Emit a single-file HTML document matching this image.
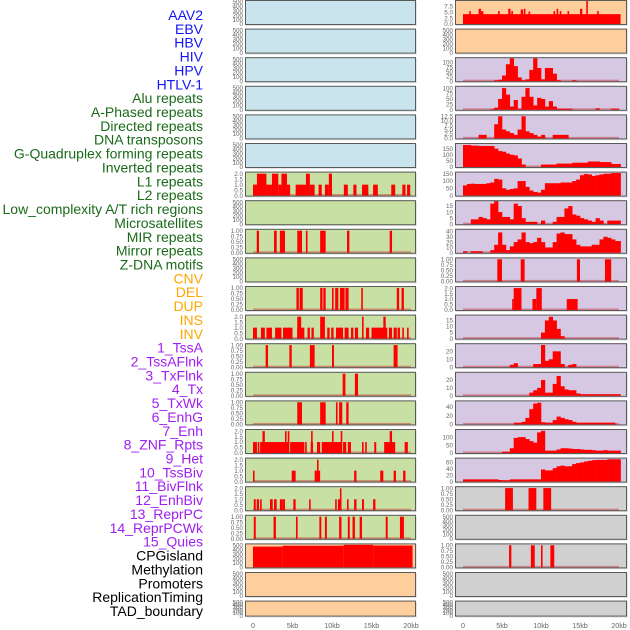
<!DOCTYPE html>
<html><head><meta charset="utf-8"><style>
html,body{margin:0;padding:0;background:#fff;}
svg{display:block;font-family:"Liberation Sans",Arial,sans-serif;}
</style></head><body>
<svg id="chart" width="630" height="630" viewBox="0 0 630 630"></svg>
<script>
// ---- data ----
const trackLabels=["AAV2","EBV","HBV","HIV","HPV","HTLV-1","Alu repeats","A-Phased repeats","Directed repeats","DNA transposons","G-Quadruplex forming repeats","Inverted repeats","L1 repeats","L2 repeats","Low_complexity A/T rich regions","Microsatellites","MIR repeats","Mirror repeats","Z-DNA motifs","CNV","DEL","DUP","INS","INV","1_TssA","2_TssAFlnk","3_TxFlnk","4_Tx","5_TxWk","6_EnhG","7_Enh","8_ZNF_Rpts","9_Het","10_TssBiv","11_BivFlnk","12_EnhBiv","13_ReprPC","14_ReprPCWk","15_Quies","CPGisland","Methylation","Promoters","ReplicationTiming","TAD_boundary"];
const labelGroups=[0,0,0,0,0,0,1,1,1,1,1,1,1,1,1,1,1,1,1,2,2,2,2,2,3,3,3,3,3,3,3,3,3,3,3,3,3,3,3,4,4,4,4,4];
const xTickLabels=["0","5kb","10kb","15kb","20kb"];
const xTickValues=[0,5,10,15,20];

// right column binned values (0.5kb bins)
const rHIV=[0,0,0,0,0,0,0,0,5,8,30,90,125,80,20,5,10,60,125,70,10,70,70,40,5,0,0,0,5,0,0,0,0,0,0,0,0,0,0,0,0];
const rHPV=[0,0,0,0,0,0,0,3,10,50,100,70,15,45,5,60,100,60,20,55,50,15,40,15,5,5,5,5,0,0,0,0,0,0,7,0,0,0,5,5,0];
const rHTLV=[0,0,0,0,2,2,0,0,8,12.5,5,4,3,2,5,12.5,4,3,2,1,2,0,0,2,2,2,2,0,0,0,0,0,0,0,0,0,0,0,0,0,0];
const rAlu=[180,180,175,175,172,172,172,172,150,130,125,110,100,95,70,20,0,0,0,0,20,20,20,20,28,28,28,28,35,35,35,35,45,45,45,40,40,40,25,25,25];
const rL1=[70,80,82,80,80,80,85,90,115,110,50,40,45,50,100,100,60,35,25,20,40,85,85,85,85,90,90,90,100,110,140,148,145,135,140,145,150,150,155,155,155];
const rL2=[0,0,4,4,6,5,4,17,19,10,6,6,4,17,15,5,2,2,2,0,3,0,0,2,6,6,13,15,8,7,5,4,3,2,5,3,0,3,3,3,3];
const rMicro=[3,0,3,3,3,0,0,5,15,38,15,5,12,20,25,38,20,18,20,28,20,10,10,20,36,38,35,35,25,15,12,12,12,15,15,25,30,28,25,22,22];
const rINS=[0,0,0,0,0,0,0,0,0,0,0,0,0,0,0,0,0,0,0,0,5,15,18,15,8,2,0,0,0,0,0,0,0,0,0,0,0,0,0,0,0];
const rTssA=[0,0,0,0,0,0,0,0,0,0,0,0,3,5,0,0,0,0,4,4,28,8,10,20,20,4,0,3,4,0,0,0,0,0,0,0,0,0,0,0,0];
const rTssAFlnk=[0,0,0,0,0,0,0,0,0,0,0,0,0,0,0,0,0,4,7,10,20,4,4,15,25,12,8,7,7,3,2,2,2,2,2,2,2,2,2,2,2];
const rTx=[0,0,0,0,0,0,0,0,0,0,0,0,0,4,4,6,15,35,48,50,5,4,4,10,18,15,12,10,6,4,4,4,4,4,4,4,4,4,4,0,0];
const rTxWk=[0,0,0,0,0,0,0,0,0,0,8,8,30,95,100,100,88,75,65,130,140,15,15,15,22,30,30,28,25,25,22,20,20,18,15,15,18,15,15,15,15];
const rEnhG=[7,7,7,7,7,7,7,7,7,5,4,4,7,7,7,7,7,7,7,7,38,35,35,42,48,50,48,48,55,58,60,63,65,67,68,68,68,70,70,70,70];

// segment data [startKb, endKb, value]
const rAAV2=[[0,20.2,4.2],[0.8,1,5.5],[2,2.3,6.5],[2.3,2.6,5.5],[4.5,4.7,5.5],[5.8,6.1,6.5],[6.2,6.4,5.5],[7.4,7.7,6.2],[7.8,8,6.5],[8.4,8.6,5.3],[11.6,11.8,5.5],[12,12.2,6.5],[12.4,12.6,5.5],[13.4,13.6,5.5],[15,15.3,6.5],[17.2,17.4,5.5],[15.8,16,9.8]];
const rZDNA=[[4.4,5,1],[7.4,7.9,1],[14.6,15,1],[18.2,19,1]];
const rDEL=[[6.3,6.5,1],[6.5,7.5,2],[8.9,9.4,1],[9.4,10.1,2],[13.3,14.7,1]];
const rEnh=[[5.4,6.4,1],[8.4,9.4,1],[10.3,11.3,1]];
const rReprPC=[[5.9,6.2,1],[8.7,9.2,1],[10,10.2,1],[11.2,11.7,1]];

const lL1=[[0,0.5,1],[0.5,1.7,2],[1.7,2.4,1],[2.4,3.2,2],[3.2,3.6,1],[3.6,4.3,2],[4.3,4.7,1],[5.4,6.7,1],[6.7,7.2,2],[7.2,7.8,1],[8.3,8.7,1],[9.1,9.6,1],[9.6,10,2],[11.5,12,1],[12.7,13.1,1],[13.8,14.6,1],[15.2,15.8,1],[17.5,18,1],[18.9,19.3,1],[19.5,19.9,1]];
const lMIR=[[0.47,0.76,1],[2.66,3,1],[3.4,4.05,1],[5.6,6.2,1],[6.7,6.9,1],[8.5,9.2,1],[11.9,12.2,1],[17.3,17.6,1]];
const lZDNA=[[5.5,5.8,1],[5.9,6.3,1],[8.5,8.8,1],[8.9,9.2,1],[10,10.2,1],[10.4,10.8,1],[11,11.6,1],[11.7,12.1,1],[13.7,13.9,1],[18.2,18.5,1],[18.8,19.1,1]];
const lDEL=[[0,0.5,1],[1,1.5,1],[1.7,2.4,1],[2.8,3.6,1],[3.8,5,1],[5.6,6.5,1],[5.6,6.1,2],[6.9,7.2,1],[7.4,7.7,1],[8.5,9.1,2],[9.4,9.7,1],[9.9,10.2,1],[10.5,11.4,1],[11.6,12.1,1],[12.4,12.7,1],[12.9,13.3,1],[13.8,14,2],[14.3,14.7,1],[15,17,1],[16.5,16.8,2],[17.2,17.6,1],[17.8,18.2,1],[18.3,18.6,1],[18.9,19.1,1],[19.5,19.7,1]];
const lDUP=[[1.6,1.9,1],[4.6,4.9,1],[7.2,7.8,1],[10,10.25,1],[17.8,18.3,1]];
const lINS=[[11.35,11.7,1],[12.9,13.3,1]];
const lINV=[[5.6,6.2,1],[8.5,9.2,1],[10.5,10.7,1],[10.9,11.3,1],[11.8,12.1,1]];
const lTssA=[[0,0.5,1],[0.6,0.8,1],[0.9,4.5,1],[1.2,1.5,2],[4.05,4.25,2],[4.4,4.6,2],[4.7,6.5,1],[6.6,6.8,1],[7.3,7.6,1],[7.35,7.45,2],[8.1,8.5,1],[8.7,11.2,1],[10,10.2,2],[11.1,11.3,2],[11.4,11.8,1],[12,12.4,1],[13.8,14,1],[14.2,14.4,1],[15.35,15.6,1],[16.6,18,1],[17.3,17.6,2],[19.2,19.6,1]];
const lTssAFlnk=[[0,0.2,1],[4.9,5.4,1],[7.8,8.5,1],[8.1,8.3,2],[12.8,13.1,1],[16.1,16.5,1],[17.8,18.1,1],[19,19.3,1]];
const lTxFlnk=[[0.1,0.35,1],[0.47,0.76,1],[0.9,1.1,1],[2.15,2.5,1],[2.66,3,1],[3.4,3.7,1],[3.7,4.05,1],[5.1,5.4,1],[7.1,7.3,1],[10.4,10.6,1],[10.75,11.2,1],[11,11.2,2],[11.9,12.1,1],[12.8,13.1,1],[13.8,14.05,1],[15.2,15.5,1]];
const lTx=[[0.1,0.35,1],[2.6,2.9,1],[5.44,5.65,1],[8.4,8.65,1],[9.1,9.35,1],[10.9,11.2,1],[12,12.25,1],[12.6,12.9,1],[13.5,13.8,1],[16.8,17.05,1],[18.6,19.1,1]];
const lTxWk=[[0,3.75,470],[3.75,11.5,490],[11.5,15.2,510],[15.2,20.2,495]];

// ---- layout ----
const T0=[0.0,0.25,0.5,0.75,1.0], T2=[0,0.5,1,1.5,2], TE=[0,100,200,300,400,500];
const C={blue:"#c9e4ec",green:"#c9e0a5",purple:"#d6c7e3",peach:"#fecf9d",grey:"#d0d0d0"};
const E=()=>({ticks:TE,ymax:520,empty:true});
const leftPanels=[
 {bg:C.blue,...E()},{bg:C.blue,...E()},{bg:C.blue,...E()},{bg:C.blue,...E()},{bg:C.blue,...E()},{bg:C.blue,...E()},
 {bg:C.green,ticks:T2,ymax:2.1,segs:lL1},{bg:C.green,...E()},
 {bg:C.green,ticks:T0,ymax:1.04,segs:lMIR},{bg:C.green,...E()},
 {bg:C.green,ticks:T0,ymax:1.04,segs:lZDNA},{bg:C.green,ticks:T2,ymax:2.1,segs:lDEL},
 {bg:C.green,ticks:T0,ymax:1.04,segs:lDUP},{bg:C.green,ticks:T0,ymax:1.04,segs:lINS},
 {bg:C.green,ticks:T0,ymax:1.04,segs:lINV},{bg:C.green,ticks:T2,ymax:2.1,segs:lTssA},
 {bg:C.green,ticks:T2,ymax:2.1,segs:lTssAFlnk},{bg:C.green,ticks:T2,ymax:2.1,segs:lTxFlnk},
 {bg:C.green,ticks:T0,ymax:1.04,segs:lTx},{bg:C.peach,ticks:TE,ymax:520,segs:lTxWk,nobase:true},
 {bg:C.peach,...E()},{bg:C.peach,...E()}];
const rightPanels=[
 {bg:C.peach,ticks:[0,2.5,5,7.5],ymax:9.8,segs:rAAV2,nobase:true},{bg:C.peach,...E()},
 {bg:C.purple,ticks:[0,25,50,75,100],ymax:122,bins:rHIV},
 {bg:C.purple,ticks:[0,25,50,75,100],ymax:106,bins:rHPV},
 {bg:C.purple,ticks:[0,2.5,5,7.5,10,12.5],ymax:13,bins:rHTLV},
 {bg:C.purple,ticks:[0,50,100,150],ymax:188,bins:rAlu},
 {bg:C.purple,ticks:[0,50,100,150],ymax:158,bins:rL1},
 {bg:C.purple,ticks:[0,5,10,15],ymax:19,bins:rL2},
 {bg:C.purple,ticks:[0,10,20,30,40],ymax:43,bins:rMicro},
 {bg:C.purple,ticks:T0,ymax:1.04,segs:rZDNA},
 {bg:C.purple,ticks:T2,ymax:2.1,segs:rDEL},
 {bg:C.purple,ticks:[0,5,10,15],ymax:19,bins:rINS},
 {bg:C.purple,ticks:[0,10,20],ymax:29,bins:rTssA},
 {bg:C.purple,ticks:[0,10,20],ymax:29,bins:rTssAFlnk},
 {bg:C.purple,ticks:[0,20,40],ymax:53,bins:rTx},
 {bg:C.purple,ticks:[0,50,100],ymax:145,bins:rTxWk},
 {bg:C.purple,ticks:[0,20,40,60],ymax:72,bins:rEnhG},
 {bg:C.grey,ticks:T0,ymax:1.04,segs:rEnh},{bg:C.grey,...E()},
 {bg:C.grey,ticks:T0,ymax:1.04,segs:rReprPC},{bg:C.grey,...E()},{bg:C.grey,...E()}];

const NS="http://www.w3.org/2000/svg";
const svg=document.getElementById('chart');
function mk(tag,attrs,parent){const e=document.createElementNS(NS,tag);for(const k in attrs)e.setAttribute(k,attrs[k]);(parent||svg).appendChild(e);return e;}
const groupColors=["#1414f5","#1a6a1a","#ffa500","#a020f0","#000000"];

// labels
trackLabels.forEach((t,i)=>{
  const el=mk('text',{x:203,y:15+i*13.86+5,'text-anchor':'end','font-size':'14',fill:groupColors[labelGroups[i]]});
  el.textContent=t;
  
  
});

function fmt(v,ticks){const dec=ticks.some(t=>t%1!==0)?(ticks.some(t=>(t*10)%1!==0)?2:1):0;return v.toFixed(dec);}
function drawPanel(p,row,side){
  const top=row*28.6, h=row===21?16:25;
  const px=side==='l'?245:455, pw=side==='l'?171:172;
  const x0=side==='l'?253:463, k=side==='l'?7.9:7.8;
  const xs=kb=>x0+kb*k;
  const yb=top+h-1, ys=v=>yb-Math.min(v,p.ymax)/p.ymax*(h-2);
  const g=mk('g',{});
  
  
  mk('rect',{x:px+1,y:top+1,width:pw,height:h,fill:'#e4e4e4'},g);
  mk('rect',{x:px,y:top,width:pw,height:h,fill:p.bg},g);
  if(!p.empty&&!p.nobase) mk('rect',{x:xs(0),y:yb-1.5,width:xs(20)-xs(0),height:2,fill:'rgba(200,40,40,0.45)'},g);
  if(p.segs) p.segs.forEach(s=>{
    const x1=xs(s[0]),x2=xs(s[1]);
    const r=mk('rect',{x:x1,y:ys(s[2]),width:Math.max(1.6,x2-x1),height:yb-ys(s[2]),fill:'#ff0000'},g);
     
  });
  if(p.bins) p.bins.forEach((v,i)=>{
    if(!v) return;
    const x1=xs(i*0.5),x2=xs(Math.min(i*0.5+0.5,20.2));
    const r=mk('rect',{x:x1,y:ys(v),width:x2-x1+0.3,height:yb-ys(v),fill:'#ff0000'},g);
     
  });
  mk('rect',{x:px+0.5,y:top+0.5,width:pw-1,height:h-1,fill:'none',stroke:'#5a5a5a','stroke-width':1},g);
  p.ticks.forEach(t=>{
    const tt=mk('text',{x:px-2,y:ys(t)+2.2,'text-anchor':'end','font-size':'6.3',fill:'#666'},g);
    tt.textContent=fmt(t,p.ticks);
     
  });
}
leftPanels.forEach((p,i)=>drawPanel(p,i,'l'));
rightPanels.forEach((p,i)=>drawPanel(p,i,'r'));
// x axes
[['l',253,7.9],['r',463,7.8]].forEach(([s,x0,k])=>{
  xTickValues.forEach((v,i)=>{
    const t=mk('text',{x:x0+v*k,y:628,'text-anchor':'middle','font-size':'7.2',fill:'#666'});
    t.textContent=xTickLabels[i];
     
  });
});
</script>
</body></html>
